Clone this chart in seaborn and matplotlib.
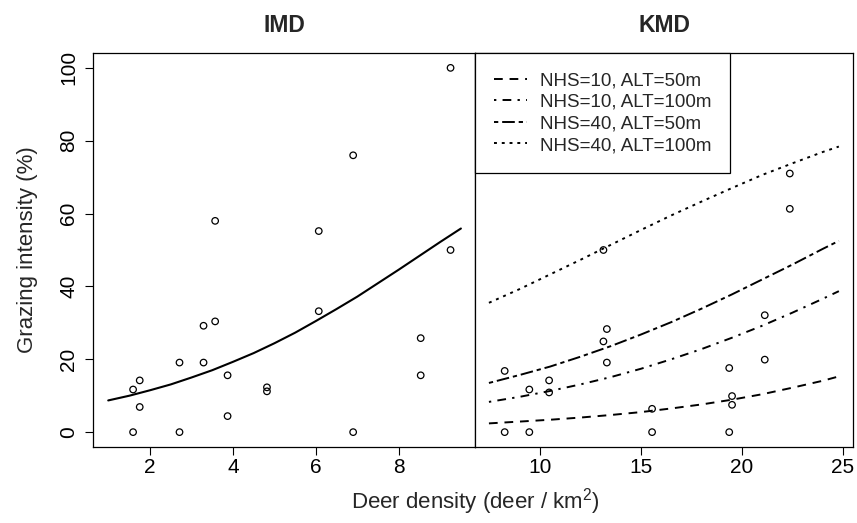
import numpy as np
import pandas as pd
import matplotlib
matplotlib.use("Agg")
import matplotlib.pyplot as plt
import seaborn as sns

# ---------------- data ----------------
imd_x = [1.59, 1.59, 1.75, 1.75, 2.71, 2.71, 3.29, 3.29, 3.57, 3.57, 3.87, 3.87,
         4.82, 4.82, 6.07, 6.07, 6.90, 6.90, 8.53, 8.53, 9.25, 9.25]
imd_y = [0, 11.7, 14.2, 6.9, 19.1, 0, 29.2, 19.1, 58, 30.4, 15.6, 4.4,
         12.3, 11.2, 55.2, 33.2, 76, 0, 25.8, 15.6, 100, 50]

imd_curve_x = [0.99, 1.5, 2.0, 2.5, 3.0, 3.5, 4.0, 4.5, 5.0, 5.5, 6.0, 6.5, 7.0,
               7.5, 8.0, 8.5, 9.0, 9.5]
imd_curve_y = [8.7, 10.0, 11.5, 13.1, 15.0, 17.0, 19.3, 21.7, 24.4, 27.3, 30.5,
               33.8, 37.2, 40.9, 44.6, 48.4, 52.2, 55.9]

kmd_x = [8.25, 8.25, 9.47, 9.47, 10.45, 10.45, 13.14, 13.14, 13.31, 13.31,
         15.55, 15.55, 19.37, 19.37, 19.51, 19.51, 21.13, 21.13, 22.37, 22.37]
kmd_y = [0, 16.8, 0, 11.7, 14.2, 10.9, 24.9, 50, 28.3, 19.1,
         6.4, 0, 17.6, 0, 9.9, 7.5, 32.1, 19.9, 71.0, 61.3]

kmd_curve_x = [7.47, 9.0, 10.5, 12.0, 13.5, 15.0, 16.5, 18.0, 19.5, 21.0, 22.5, 24.0, 24.8]
nhs10_alt50 = [2.4, 2.9, 3.4, 4.0, 4.7, 5.5, 6.5, 7.6, 8.9, 10.4, 12.2, 14.1, 15.3]
nhs10_alt100 = [8.3, 9.7, 11.3, 13.1, 15.1, 17.4, 20.0, 22.8, 25.9, 29.2, 32.8, 36.6, 38.7]
nhs40_alt50 = [13.5, 15.7, 18.0, 20.7, 23.6, 26.8, 30.2, 33.9, 37.8, 41.9, 46.0, 50.3, 52.5]
nhs40_alt100 = [35.5, 39.3, 43.3, 47.3, 51.4, 55.5, 59.5, 63.3, 67.0, 70.6, 73.8, 76.9, 78.4]

scenario_labels = ["NHS=10, ALT=50m", "NHS=10, ALT=100m",
                   "NHS=40, ALT=50m", "NHS=40, ALT=100m"]
panel_titles = ["IMD", "KMD"]
imd_xticks = [2, 4, 6, 8]
kmd_xticks = [10, 15, 20, 25]
y_ticks = [0, 20, 40, 60, 80, 100]

# ---------------- style ----------------
sns.set_theme(style="white")
plt.rcParams["font.family"] = ["Liberation Sans", "DejaVu Sans"]
plt.rcParams["mathtext.default"] = "regular"
plt.rcParams["axes.edgecolor"] = "black"
plt.rcParams["axes.linewidth"] = 0.9

W, H = 857, 523
fig = plt.figure(figsize=(W / 100, H / 100), dpi=100)

def fx(px):
    return px / W

def fy(py):
    return 1 - py / H

top_px, bot_px = 53.3, 446.7
ax1 = fig.add_axes([fx(93.3), fy(bot_px), fx(475) - fx(93.3), (bot_px - top_px) / H])
ax2 = fig.add_axes([fx(475), fy(bot_px), fx(853) - fx(475), (bot_px - top_px) / H])

# ---------------- IMD panel ----------------
sns.scatterplot(x=imd_x, y=imd_y, ax=ax1, s=22, legend=False)
sns.lineplot(x=imd_curve_x, y=imd_curve_y, ax=ax1, color="black", lw=1.5, legend=False)

# ---------------- KMD panel ----------------
sns.scatterplot(x=kmd_x, y=kmd_y, ax=ax2, s=22, legend=False)
dash_styles = [(4.5, 3.5), (1.2, 3.2, 4.5, 3.2), (2.2, 2.0, 6.5, 2.0), (1.5, 2.5)]
series = [nhs10_alt50, nhs10_alt100, nhs40_alt50, nhs40_alt100]
for vals, lab in zip(series, scenario_labels):
    sns.lineplot(x=kmd_curve_x, y=vals, ax=ax2, color="black", lw=1.4, legend=False, label=lab)
kmd_lines = ax2.get_lines()
for ln, d in zip(kmd_lines, dash_styles):
    ln.set_dashes(d)

for ax in (ax1, ax2):
    for coll in ax.collections:
        coll.set_facecolor("none")
        coll.set_edgecolor("black")
        coll.set_linewidth(0.9)

# ---------------- axes formatting ----------------
ax1.set_xlim(0.63, 9.84)
ax2.set_xlim(6.78, 25.5)
for ax in (ax1, ax2):
    ax.set_ylim(-4, 104)
    ax.set_xlabel("")
    ax.set_ylabel("")
    for sp in ax.spines.values():
        sp.set_visible(True)
        sp.set_color("black")
        sp.set_linewidth(0.9)

ax1.set_xticks(imd_xticks)
ax2.set_xticks(kmd_xticks)
ax1.set_yticks(y_ticks)
ax2.set_yticks(y_ticks)

ax1.tick_params(axis="x", direction="out", length=5.8, width=0.8, pad=2.5,
                labelsize=15, bottom=True, colors="black")
ax2.tick_params(axis="x", direction="out", length=5.8, width=0.8, pad=2.5,
                labelsize=15, bottom=True, colors="black")
ax1.tick_params(axis="y", direction="out", length=5.8, width=0.8, pad=5,
                labelsize=15, left=True, colors="black")
ax2.tick_params(axis="y", left=False, labelleft=False)
plt.setp(ax1.get_yticklabels(), rotation=90, va="center")

ax1.set_ylabel("Grazing intensity (%)", fontsize=16)
ax1.yaxis.set_label_coords(-0.145, 0.5)

for ax, t in zip((ax1, ax2), panel_titles):
    ax.set_title(t, fontsize=16.5, fontweight="bold", pad=15)

fig.text(fx(475), fy(502), "Deer density (deer / km$^2$)", fontsize=16,
         ha="center", va="center")

leg = ax2.legend(handles=kmd_lines, labels=scenario_labels, loc="upper left",
                 bbox_to_anchor=(0, 1), borderaxespad=0, fancybox=False,
                 frameon=True, edgecolor="black", framealpha=1, fontsize=13.5,
                 handlelength=1.75, handletextpad=0.7, borderpad=1.0,
                 labelspacing=0.24)
leg.get_frame().set_linewidth(0.9)

fig.savefig("out.png", dpi=100)
